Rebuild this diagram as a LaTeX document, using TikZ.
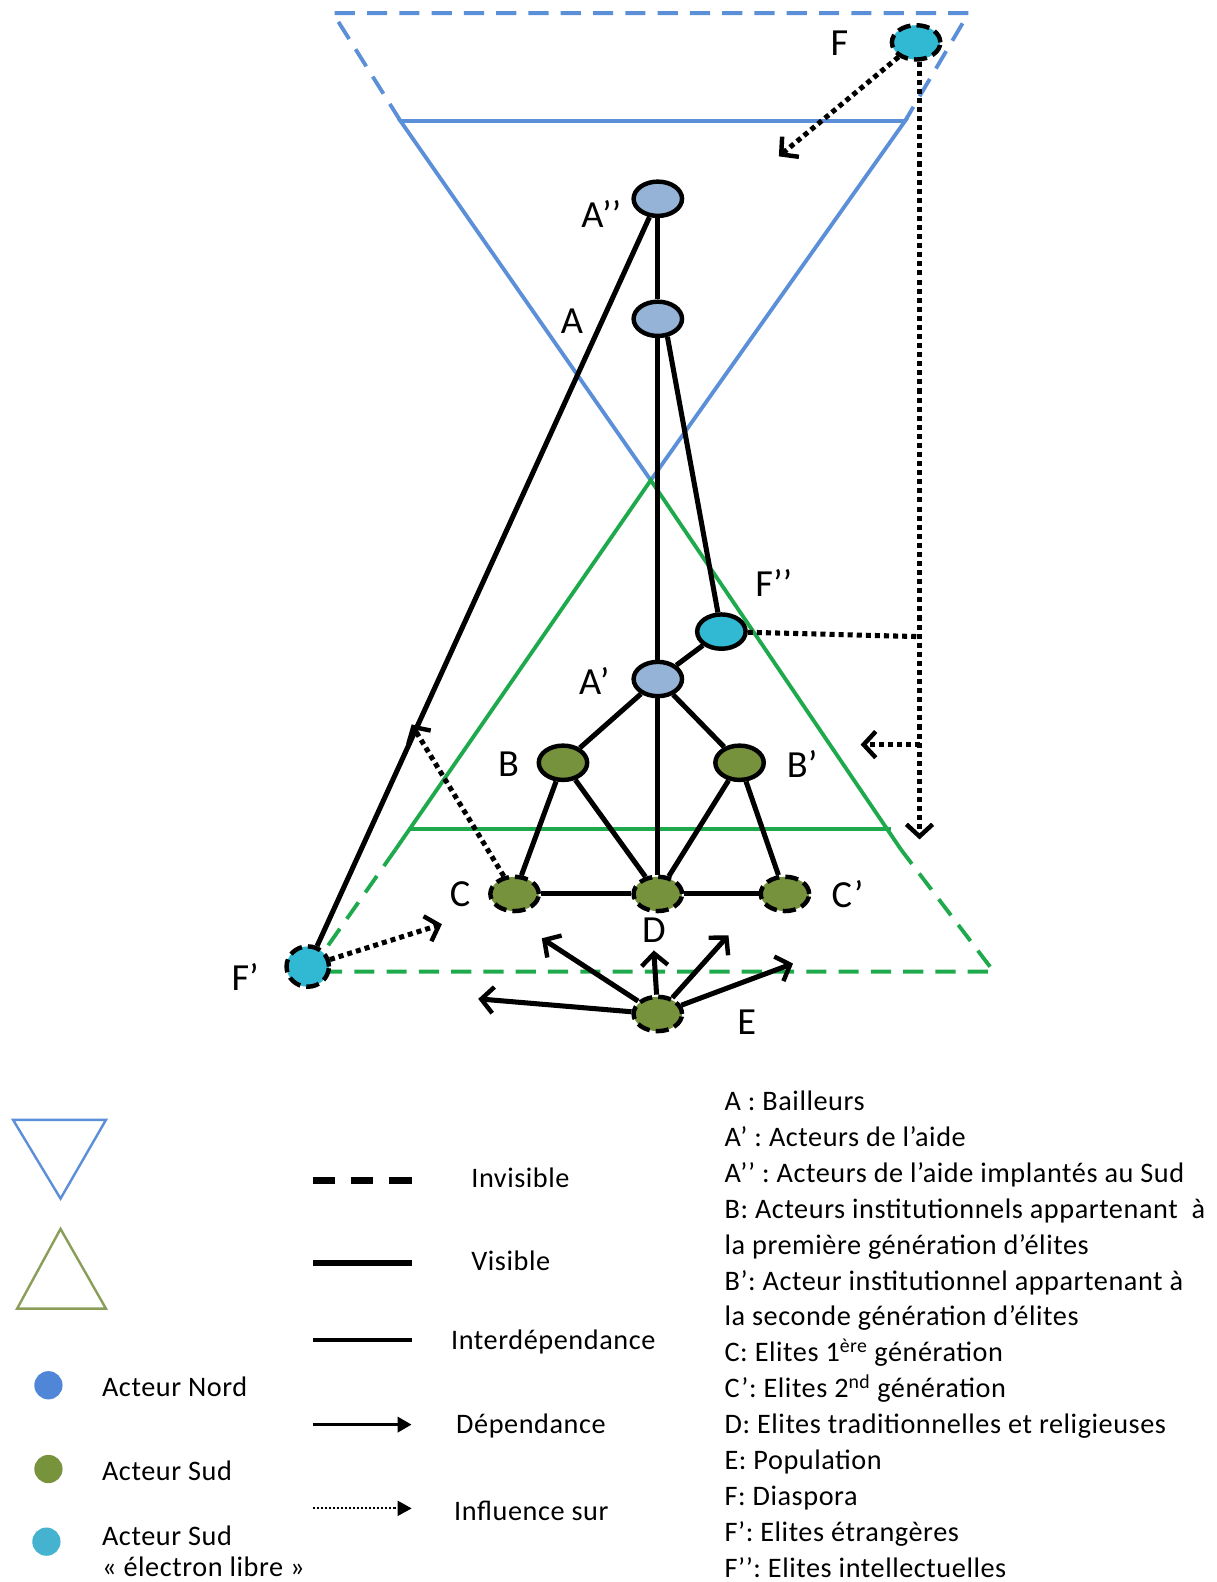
\documentclass[tikz,border=0pt]{standalone}
\usepackage{fontspec}
\setmainfont{Carlito}
\newfontfamily\keyfont[LetterSpace=2]{Carlito}
\usepackage{tikz}
\usetikzlibrary{positioning,shapes.geometric,arrows.meta}

\definecolor{nordblue}{HTML}{95B3D7}
\definecolor{sudgreen}{HTML}{76923C}
\definecolor{librecyan}{HTML}{31B9D4}
\definecolor{trinord}{HTML}{5B8FD8}
\definecolor{trisud}{HTML}{1EAA4C}
\definecolor{legnord}{HTML}{4F86D8}
\definecolor{legsud}{HTML}{77933C}
\definecolor{leglibre}{HTML}{45B2D0}
\definecolor{legtri}{HTML}{8A9E5A}

\tikzset{
  actor/.style={ellipse, draw, line width=4.4pt, inner sep=0pt, minimum width=48pt, minimum height=34pt},
  nord/.style={actor, fill=nordblue},
  sud/.style={actor, fill=sudgreen},
  libre/.style={actor, fill=librecyan},
  hidnode/.style={dash pattern=on 13pt off 6pt},
  hidline/.style={dash pattern=on 20pt off 12pt},
  tri/.style={line width=3.8pt},
  lbl/.style={font=\fontsize{38}{42}\selectfont, inner sep=0pt},
  txt/.style={font=\keyfont\fontsize{28}{35.6}\selectfont, inner sep=0pt},
  link/.style={line width=5pt},
  dots/.style={line width=5pt, dash pattern=on 5pt off 4pt},
  dep/.style={link, -{Straight Barb[length=12pt,width=26pt,line width=4.4pt]}},
  infl/.style={dots, -{Straight Barb[length=12pt,width=26pt,line width=4.4pt]}},
}

\begin{document}
\begin{tikzpicture}[x=1pt, y=-1pt, on grid]
\useasboundingbox (0,0) rectangle (1206,1568);

% north (inverted) triangle
\draw[trinord, tri] (397,120) -- (645,476) -- (897,120) -- cycle;
\draw[trinord, tri, hidline] (397,120) -- (330,13) -- (960,13) -- (897,120);
% south triangle
\draw[trisud, tri] (392,842) -- (645,476) -- (893,842);
\draw[trisud, tri] (407,822) -- (883,822);
\draw[trisud, tri, hidline] (392,842) -- (307,963) -- (985,963) -- (893,842);

% actors
\node[nord] (Ap2) at (652,197) {};
\node[nord, below=119pt of Ap2] (A) {};
\node[nord, below=357pt of A] (Ap) {};
\node[libre, above right=47pt and 63pt of Ap] (Fpp) {};
\node[sud, below left=83pt and 94pt of Ap] (B) {};
\node[sud, below right=83pt and 81pt of Ap] (Bp) {};
\node[sud, hidnode, below=213pt of Ap] (D) {};
\node[sud, hidnode, left=142pt of D] (C) {};
\node[sud, hidnode, right=126pt of D] (Cp) {};
\node[sud, hidnode, below=119pt of D] (E) {};
\node[libre, hidnode] (F) at (908,42) {};
\node[libre, hidnode, minimum width=42pt, minimum height=40pt] (Fp) at (305,958) {};

\node[lbl] (lF) at (832,43) {F};
\node[lbl] (lAp2) at (596,212) {A’’};
\node[lbl] (lA) at (567,318) {A};
\node[lbl] (lFpp) at (767,578) {F’’};
\node[lbl] (lAp) at (589,675) {A’};
\node[lbl] (lB) at (504,757) {B};
\node[lbl] (lBp) at (795,757) {B’};
\node[lbl] (lC) at (456,886) {C};
\node[lbl] (lCp) at (840,886) {C’};
\node[lbl] (lD) at (648,922) {D};
\node[lbl] (lE) at (740,1013) {E};
\node[lbl] (lFp) at (243,968) {F’};

% links
\draw[link] (Ap2) -- (A);
\draw[link] (Ap2) -- (Fp);
\draw[link] (A) -- (Ap);
\draw[link] (Ap) -- (D);
\draw[link] (A.-62) -- (Fpp);
\draw[link] (Fpp) -- (Ap);
\draw[link] (Ap) -- (B);
\draw[link] (Ap) -- (Bp);
\draw[link] (B) -- (C);
\draw[link] (B) -- (D);
\draw[link] (Bp) -- (D);
\draw[link] (Bp) -- (Cp);
\draw[link] (C) -- (D);
\draw[link] (D) -- (Cp);

% population
\foreach \x/\y [count=\i] in {474/990, 537/930, 648/942, 722/927, 786/955}{
  \coordinate (e\i) at (\x,\y);
  \draw[dep] (E) -- (e\i);
}

% influences
\coordinate (fa) at (772,155);
\coordinate (fb) at (912,832);
\coordinate (fc) at (912,631);
\coordinate (ga) at (912,738);
\coordinate (gb) at (853,738);
\coordinate (ca) at (408,718);
\coordinate (pa) at (438,916);
\draw[infl] (F) -- (fa);
\draw[infl] (F.-80) -- (F.-80 |- fb);
\draw[dots] (Fpp) -- (fc);
\draw[infl] (ga) -- (gb);
\draw[infl] (C) -- (ca);
\draw[infl] (Fp) -- (pa);

% legend
\draw[trinord, line width=2.4pt] (13,1110) -- (105,1110) -- (60,1188) -- cycle;
\draw[legtri, line width=2.4pt] (60,1218) -- (105,1297) -- (17,1297) -- cycle;
\fill[legnord] (48,1373) circle (14);
\fill[legsud] (48,1456) circle (14);
\fill[leglibre] (46,1528) circle (14);
\node[txt, anchor=west] (kNord) at (101,1375) {Acteur Nord};
\node[txt, anchor=west] (kSud) at (101,1458) {Acteur Sud};
\node[txt, anchor=west] (kLibre) at (101,1522) {Acteur Sud};
\node[txt, anchor=west] (kLibre2) at (101,1553) {« électron libre »};

\draw[line width=6.5pt, dash pattern=on 22pt off 16pt] (310,1170) -- (408,1170);
\draw[line width=6.5pt] (310,1252) -- (408,1252);
\draw[line width=4.5pt] (310,1328) -- (408,1328);
\draw[line width=3.5pt, -{Triangle[length=14pt,width=15pt]}] (310,1412) -- (408,1412);
\draw[line width=1.8pt, dash pattern=on 2pt off 2pt, -{Triangle[length=14pt,width=15pt]}] (310,1495) -- (408,1495);
\node[txt, anchor=west] (kInv) at (467,1167) {Invisible};
\node[txt, anchor=west] (kVis) at (467,1250) {Visible};
\node[txt, anchor=west] (kInter) at (447,1330) {Interdépendance};
\node[txt, anchor=west] (kDep) at (452,1413) {Dépendance};
\node[txt, anchor=west] (kInfl) at (450,1497) {Influence sur};

\node[txt, anchor=north west, align=left] (key) at (718,1081) {A : Bailleurs\\
A’ : Acteurs de l’aide\\
A’’ : Acteurs de l’aide implantés au Sud\\
B: Acteurs institutionnels appartenant \ à\\
la première génération d’élites\\
B’: Acteur institutionnel appartenant à\\
la seconde génération d’élites\\
C: Elites 1\textsuperscript{ère} génération\\
C’: Elites 2\textsuperscript{nd} génération\\
D: Elites traditionnelles et religieuses\\
E: Population\\
F: Diaspora\\
F’: Elites étrangères\\
F’’: Elites intellectuelles};
\end{tikzpicture}
\end{document}
